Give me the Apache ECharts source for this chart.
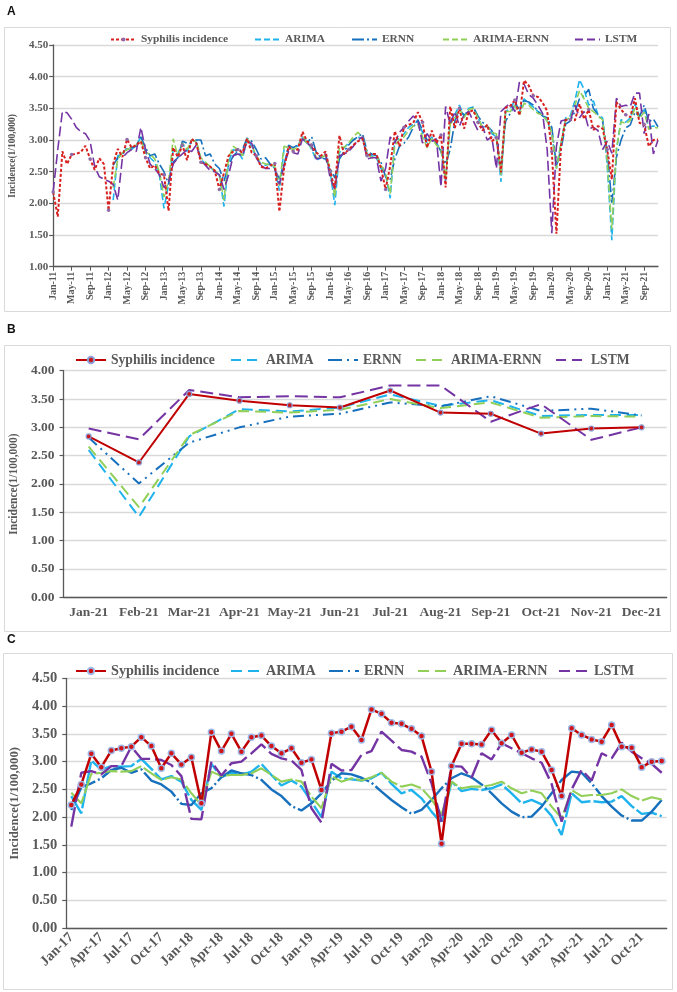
<!DOCTYPE html>
<html><head><meta charset="utf-8">
<script src="https://cdn.jsdelivr.net/npm/echarts@6/dist/echarts.min.js"></script>
<style>html,body{margin:0;padding:0;background:#fff}#c{width:677px;height:992px}</style>
</head><body><div id="c"></div>
<script>
// ---------- tick labels / categories ----------
const MONTHS = ['Jan','Feb','Mar','Apr','May','Jun','Jul','Aug','Sep','Oct','Nov','Dec'];
const YEARS_A = ['11','12','13','14','15','16','17','18','19','20','21'];
const YEARS_C = ['17','18','19','20','21'];
const catA = YEARS_A.flatMap(y => MONTHS.map(m => m + '-' + y));
const catB = MONTHS.map(m => m + '-21');
const catC = YEARS_C.flatMap(y => MONTHS.map(m => m + '-' + y));
const SERIES_NAMES = ['Syphilis incidence','ARIMA','ERNN','ARIMA-ERNN','LSTM'];

// ---------- Panel C (Jan-17 .. Dec-21) ----------
const actualC = [2.22,2.59,3.14,2.90,3.20,3.24,3.27,3.44,3.28,2.88,3.15,2.95,
 3.08,2.25,3.53,3.19,3.50,3.18,3.44,3.47,3.28,3.15,3.24,2.98,
 3.04,2.49,3.51,3.54,3.63,3.39,3.94,3.86,3.70,3.68,3.59,3.46,
 2.82,1.52,2.92,3.32,3.32,3.31,3.57,3.33,3.48,3.16,3.22,3.18,
 2.85,2.38,3.60,3.48,3.40,3.36,3.66,3.27,3.25,2.90,3.00,3.01];
const arimaC = [2.38,2.07,3.02,2.85,2.92,2.91,2.92,3.05,2.87,2.68,2.74,2.64,
 2.31,2.13,2.96,2.72,2.80,2.76,2.82,2.96,2.76,2.57,2.66,2.55,
 2.28,2.00,2.82,2.70,2.68,2.66,2.70,2.80,2.60,2.43,2.49,2.34,
 2.10,1.89,2.64,2.47,2.51,2.49,2.52,2.59,2.43,2.25,2.31,2.23,
 2.02,1.68,2.43,2.27,2.29,2.27,2.28,2.38,2.20,2.06,2.08,2.02];
const ernnC = [2.13,2.54,2.61,2.70,2.85,2.89,2.80,2.86,2.66,2.59,2.46,2.24,
 2.22,2.43,2.52,2.72,2.84,2.79,2.76,2.67,2.50,2.38,2.20,2.12,
 2.25,2.43,2.66,2.79,2.77,2.71,2.62,2.46,2.31,2.18,2.06,2.13,
 2.31,2.52,2.70,2.79,2.72,2.59,2.43,2.25,2.10,2.00,2.01,2.19,
 2.43,2.67,2.82,2.80,2.61,2.38,2.19,2.03,1.94,1.94,2.10,2.31];
const arimaErnnC = [2.44,2.25,2.78,2.80,2.83,2.82,2.83,2.92,2.79,2.67,2.72,2.68,
 2.43,2.22,2.82,2.74,2.76,2.76,2.79,2.88,2.76,2.64,2.68,2.64,
 2.37,2.16,2.74,2.64,2.70,2.66,2.72,2.80,2.64,2.55,2.59,2.52,
 2.32,2.05,2.64,2.52,2.55,2.55,2.58,2.64,2.52,2.43,2.48,2.43,
 2.19,1.98,2.49,2.38,2.40,2.40,2.43,2.50,2.38,2.30,2.36,2.32];
const lstmC = [1.83,2.80,2.83,2.77,2.92,2.92,3.27,3.05,3.05,3.03,2.94,2.74,
 1.97,1.96,3.00,2.75,2.97,3.00,3.15,3.31,3.14,3.06,3.02,2.85,
 2.16,1.90,2.96,2.84,2.85,3.12,3.19,3.54,3.38,3.21,3.18,3.09,
 2.61,1.92,2.92,2.91,2.71,3.15,3.04,3.33,3.24,3.15,3.06,2.98,
 2.60,1.92,2.50,2.85,2.66,3.15,3.06,3.34,3.18,3.06,2.96,2.80];

// ---------- Panel B (Jan-21 .. Dec-21) ----------
const actualB   = [2.84,2.38,3.59,3.47,3.39,3.35,3.65,3.26,3.24,2.89,2.98,3.00];
const arimaB    = [2.60,1.42,2.84,3.32,3.28,3.35,3.58,3.38,3.48,3.20,3.22,3.22];
const ernnB     = [2.82,2.01,2.73,3.00,3.19,3.24,3.44,3.37,3.55,3.29,3.33,3.21];
const arimaErnnB= [2.66,1.59,2.86,3.29,3.26,3.31,3.50,3.34,3.44,3.17,3.20,3.19];
const lstmB     = [2.98,2.79,3.66,3.53,3.55,3.53,3.74,3.74,3.10,3.41,2.78,3.00];

// ---------- Panel A (Jan-11 .. Dec-21) ----------
const actualA2011_2016 = [2.18,1.79,2.82,2.62,2.77,2.78,2.81,2.91,2.70,2.53,2.71,2.62,
 1.89,2.62,2.86,2.73,3.01,2.88,2.92,2.98,2.72,2.55,2.60,2.47,
 2.45,1.88,2.88,2.73,2.92,2.68,3.02,2.95,2.65,2.62,2.58,2.52,
 2.22,2.48,2.75,2.82,2.85,2.80,3.02,2.80,2.75,2.58,2.55,2.60,
 2.63,1.87,2.55,2.90,2.82,2.85,3.13,2.98,2.92,2.80,2.75,2.82,
 2.50,2.24,3.07,2.78,2.85,2.92,2.98,3.02,2.75,2.78,2.78,2.56];
const actualA = actualA2011_2016.concat(actualC);
const arimaA = [null,null,null,null,null,null,null,null,null,null,null,null,
 null,2.05,2.75,2.78,2.88,2.85,2.92,3.05,2.80,2.72,2.65,2.45,
 1.92,2.30,2.85,2.78,2.95,2.82,3.00,2.98,2.70,2.62,2.58,2.50,
 2.45,1.95,2.65,2.85,2.82,2.70,3.02,2.90,2.72,2.62,2.60,2.62,
 2.55,2.20,2.85,2.85,2.88,2.90,3.05,2.98,2.85,2.68,2.72,2.78,
 2.50,1.97,2.80,2.88,2.95,3.00,3.05,3.02,2.78,2.75,2.72,2.55,
 2.45,2.08,3.00,3.02,3.10,3.20,3.25,3.30,3.12,2.95,3.05,2.95,
 2.85,2.35,3.30,3.40,3.55,3.38,3.50,3.52,3.35,3.20,3.22,3.10,
 3.05,2.34,3.45,3.50,3.62,3.45,3.65,3.58,3.52,3.45,3.40,3.30,
 3.10,2.55,2.95,3.35,3.38,3.62,3.95,3.80,3.55,3.62,3.40,3.35,
 2.60,1.42,2.84,3.32,3.28,3.35,3.57,3.38,3.48,3.20,3.22,3.22];
const ernnA = [null,null,null,null,null,null,null,null,null,null,null,null,
 null,2.60,2.72,2.78,2.85,2.88,2.90,3.05,2.88,2.75,2.78,2.62,
 2.50,2.30,2.65,2.72,2.98,2.95,2.95,3.00,3.00,2.75,2.78,2.62,
 2.55,2.35,2.60,2.75,2.82,2.85,3.03,2.98,2.85,2.70,2.72,2.62,
 2.55,2.38,2.60,2.92,2.88,2.92,3.02,2.95,3.05,2.80,2.72,2.70,
 2.55,2.40,2.70,2.82,2.92,3.00,3.05,3.10,2.82,2.78,2.75,2.65,
 2.42,2.38,2.70,2.90,2.95,3.05,3.20,3.32,3.15,3.00,3.00,2.95,
 2.82,2.62,2.85,3.30,3.50,3.38,3.45,3.52,3.38,3.28,3.22,3.15,
 3.00,2.60,3.30,3.42,3.55,3.50,3.62,3.60,3.55,3.45,3.38,3.35,
 3.20,2.60,2.85,3.25,3.30,3.45,3.65,3.70,3.80,3.50,3.40,3.30,
 2.82,2.01,2.73,3.00,3.19,3.24,3.44,3.37,3.55,3.29,3.33,3.21];
const arimaErnnA = [null,null,null,null,null,null,null,null,null,null,null,null,
 null,2.25,2.70,2.80,2.85,2.88,2.92,3.00,2.80,2.78,2.70,2.50,
 2.10,2.35,3.02,2.75,2.95,2.85,3.00,2.98,2.72,2.65,2.58,2.52,
 2.45,2.05,2.72,2.90,2.85,2.75,3.02,2.92,2.75,2.65,2.62,2.62,
 2.58,2.28,2.90,2.88,2.85,2.88,3.05,2.95,2.88,2.72,2.72,2.76,
 2.55,2.10,2.90,2.88,2.95,3.05,3.12,3.05,2.78,2.72,2.75,2.60,
 2.48,2.15,2.92,3.00,3.05,3.15,3.22,3.25,3.05,2.88,3.02,2.92,
 2.85,2.40,3.25,3.35,3.50,3.35,3.48,3.50,3.35,3.20,3.22,3.12,
 3.10,2.45,3.45,3.45,3.55,3.40,3.58,3.55,3.48,3.42,3.40,3.30,
 3.12,2.55,2.95,3.32,3.35,3.55,3.78,3.65,3.50,3.45,3.38,3.32,
 2.66,1.59,2.86,3.29,3.26,3.31,3.50,3.34,3.44,3.17,3.20,3.19];
const lstmA = [2.18,2.85,3.45,3.43,3.33,3.20,3.13,3.10,2.98,2.58,2.42,2.38,
 2.35,2.30,2.05,2.72,2.80,2.85,2.82,3.20,2.85,2.62,2.55,2.45,
 2.25,2.35,2.62,2.72,2.78,2.85,2.82,2.92,2.68,2.60,2.52,2.50,
 2.45,2.22,2.45,2.75,2.78,2.75,2.98,2.95,2.72,2.60,2.55,2.55,
 2.55,2.30,2.60,2.82,2.80,2.78,3.02,2.95,2.90,2.70,2.72,2.78,
 2.40,2.22,2.75,2.78,2.82,2.90,3.00,3.05,2.70,2.72,2.72,2.35,
 2.55,3.05,2.95,3.12,3.20,3.30,3.38,3.30,2.95,3.10,2.98,3.02,
 2.26,3.53,3.25,3.45,3.22,3.40,3.45,3.30,3.15,3.22,3.00,3.05,
 2.55,3.45,3.52,3.58,3.45,3.92,3.88,3.72,3.66,3.55,3.42,2.85,
 1.53,2.90,3.30,3.32,3.30,3.55,3.35,3.45,3.18,3.20,3.15,2.85,
 2.98,2.79,3.66,3.53,3.55,3.53,3.74,3.74,3.10,3.41,2.78,3.00];

// ---------- styling ----------
const SERIF = "'Liberation Serif','Times New Roman',serif";
const GRAY = '#595959';
const COL = {act:'#D8201E', actC:'#C00000', arima:'#1FB3EE', ernn:'#1670BD', ae:'#92CF58', lstm:'#7434A4'};

const chart = echarts.init(document.getElementById('c'), null, {renderer:'canvas'});

function yAxisCfg(gi, min, max, fs, margin, nameFs, nameGap) {
  return {
    type:'value', gridIndex:gi, min, max, interval:0.5,
    name:'Incidence(1/100,000)', nameLocation:'middle', nameRotate:90, nameGap,
    nameTextStyle:{fontFamily:SERIF, fontWeight:'bold', fontSize:nameFs, color:GRAY},
    axisLine:{show:true, lineStyle:{color:GRAY, width:1.3}},
    axisTick:{show:true, length:4, lineStyle:{color:GRAY, width:1.2}},
    axisLabel:{formatter:v => v.toFixed(2), fontFamily:SERIF, fontWeight:'bold', fontSize:fs, color:GRAY, margin},
    splitLine:{show:true, lineStyle:{color:'#D9D9D9', width:1.4}}
  };
}

function line(gi, name, data, color, type, width, z, extra) {
  return Object.assign({
    type:'line', name: name, xAxisIndex:gi, yAxisIndex:gi, data,
    symbol:'none', connectNulls:false, z, animation:false, silent:true,
    lineStyle:{color, type, width}, itemStyle:{color}
  }, extra || {});
}

const HIDDEN = {color:'rgba(0,0,0,0)', borderColor:'rgba(0,0,0,0)', borderWidth:0, opacity:0};
function legendSet(panel, lefts, top, iw, ih, fs, dashes) {
  return SERIES_NAMES.map((n, k) => {
    const item = {name: n + '|' + panel};
    if (k > 0) item.itemStyle = HIDDEN;
    if (dashes && dashes[k]) item.lineStyle = {type: dashes[k]};
    const lg = {
      data:[item], left:lefts[k], top, itemWidth:iw, itemHeight:ih,
      padding:0, itemGap:0, selectedMode:false,
      formatter: s => s.split('|')[0],
      textStyle:{fontFamily:SERIF, fontWeight:'bold', fontSize:fs, color:GRAY}
    };
    if (k > 0) lg.itemStyle = HIDDEN;
    return lg;
  });
}

const option = {
  backgroundColor:'#fff',
  animation:false,
  grid:[
    {left:50, top:45, width:608, height:221.7},
    {left:60, top:370.7, width:606.7, height:226.6},
    {left:55, top:678.3, width:611.7, height:250}
  ],
  xAxis:[
    {type:'category', gridIndex:0, data:catA, boundaryGap:false,
     axisLine:{lineStyle:{color:GRAY, width:1.3}},
     axisTick:{interval:3, length:4, lineStyle:{color:GRAY}},
     axisLabel:{interval:3, rotate:90, margin:5, fontFamily:SERIF, fontWeight:'bold', fontSize:10, color:GRAY},
     splitLine:{show:false}},
    {type:'category', gridIndex:1, data:catB, boundaryGap:true,
     axisLine:{lineStyle:{color:GRAY, width:1.3}},
     axisTick:{interval:0, length:5, lineStyle:{color:GRAY, width:1.2}},
     axisLabel:{interval:0, margin:8, fontFamily:SERIF, fontWeight:'bold', fontSize:13.5, color:GRAY},
     splitLine:{show:false}},
    {type:'category', gridIndex:2, data:catC, boundaryGap:true,
     axisLine:{lineStyle:{color:GRAY, width:1.3}},
     axisTick:{interval:2, length:5, lineStyle:{color:GRAY, width:1.2}},
     axisLabel:{interval:2, rotate:45, margin:7, fontFamily:SERIF, fontWeight:'bold', fontSize:14, color:GRAY},
     splitLine:{show:false}}
  ],
  yAxis:[
    yAxisCfg(0, 1, 4.5, 11, 5, 9.5, 25),
    yAxisCfg(1, 0, 4, 13.5, 9, 11.5, 31),
    yAxisCfg(2, 0, 4.5, 14.5, 9, 12.8, 27)
  ],
  legend: [].concat(
    legendSet('A', [110, 254, 351, 442, 574], 34, 25, 5, 11.4, [null, [6,3], [12,3,2,3], [6,3], [8,4]]),
    legendSet('B', [75, 230, 327, 415, 555], 353, 30, 8, 13.6, [null, [10,6], [14,5,2,5], [10,6], [10,6]]),
    legendSet('C', [75, 230, 328, 417, 558], 664, 30, 8, 14.2, [null, [11,6], [14,5,2,5], [11,6], [11,6]])
  ),
  series:[
    line(0, 'ARIMA|A', arimaA, COL.arima, [7,3], 1.6, 2),
    line(0, 'ERNN|A', ernnA, COL.ernn, [12,3,2,3], 1.6, 2),
    line(0, 'ARIMA-ERNN|A', arimaErnnA, COL.ae, [7,3], 1.6, 2),
    line(0, 'LSTM|A', lstmA, COL.lstm, [10,4], 1.6, 2),
    line(0, 'Syphilis incidence|A', actualA, COL.act, [3,2], 2, 4,
      {symbol:'circle', symbolSize:3.5, showSymbol:true, itemStyle:{color:'#8E6AA8'}}),

    line(1, 'ARIMA|B', arimaB, COL.arima, [11,6], 2, 2),
    line(1, 'ERNN|B', ernnB, COL.ernn, [11,5,2,5,2,5], 2, 2),
    line(1, 'ARIMA-ERNN|B', arimaErnnB, COL.ae, [11,6], 2, 2),
    line(1, 'LSTM|B', lstmB, COL.lstm, [13,6], 2, 2),
    line(1, 'Syphilis incidence|B', actualB, COL.actC, 'solid', 2, 4,
      {symbol:'circle', symbolSize:5, showSymbol:true, itemStyle:{color:'#C8191C', borderColor:'#8C9FD6', borderWidth:1.2}}),

    line(2, 'ARIMA|C', arimaC, COL.arima, [22,3], 2.4, 2),
    line(2, 'ERNN|C', ernnC, COL.ernn, [40,3,2,3], 2.4, 2),
    line(2, 'ARIMA-ERNN|C', arimaErnnC, COL.ae, [22,3], 2.1, 2),
    line(2, 'LSTM|C', lstmC, COL.lstm, [20,5], 2.4, 2),
    line(2, 'Syphilis incidence|C', actualC, COL.actC, 'solid', 2.5, 4,
      {symbol:'circle', symbolSize:6, showSymbol:true, itemStyle:{color:'#D0141A', borderColor:'#9DB9E8', borderWidth:1.5}})
  ],
  graphic:[
    {type:'rect', z:-1, shape:{x:4.5, y:27.5, width:666, height:284}, style:{fill:'none', stroke:'#D9D9D9', lineWidth:1}},
    {type:'rect', z:-1, shape:{x:4.5, y:345.5, width:666, height:286}, style:{fill:'none', stroke:'#D9D9D9', lineWidth:1}},
    {type:'rect', z:-1, shape:{x:3.5, y:653.5, width:669, height:336}, style:{fill:'none', stroke:'#D9D9D9', lineWidth:1}},
    {type:'text', left:7, top:6, style:{text:'A', font:"bold 12px 'Liberation Sans', Arial, sans-serif", fill:'#111'}},
    {type:'text', left:7, top:324, style:{text:'B', font:"bold 12px 'Liberation Sans', Arial, sans-serif", fill:'#111'}},
    {type:'text', left:7, top:634, style:{text:'C', font:"bold 12px 'Liberation Sans', Arial, sans-serif", fill:'#111'}}
  ]
};
chart.setOption(option);
</script></body></html>
